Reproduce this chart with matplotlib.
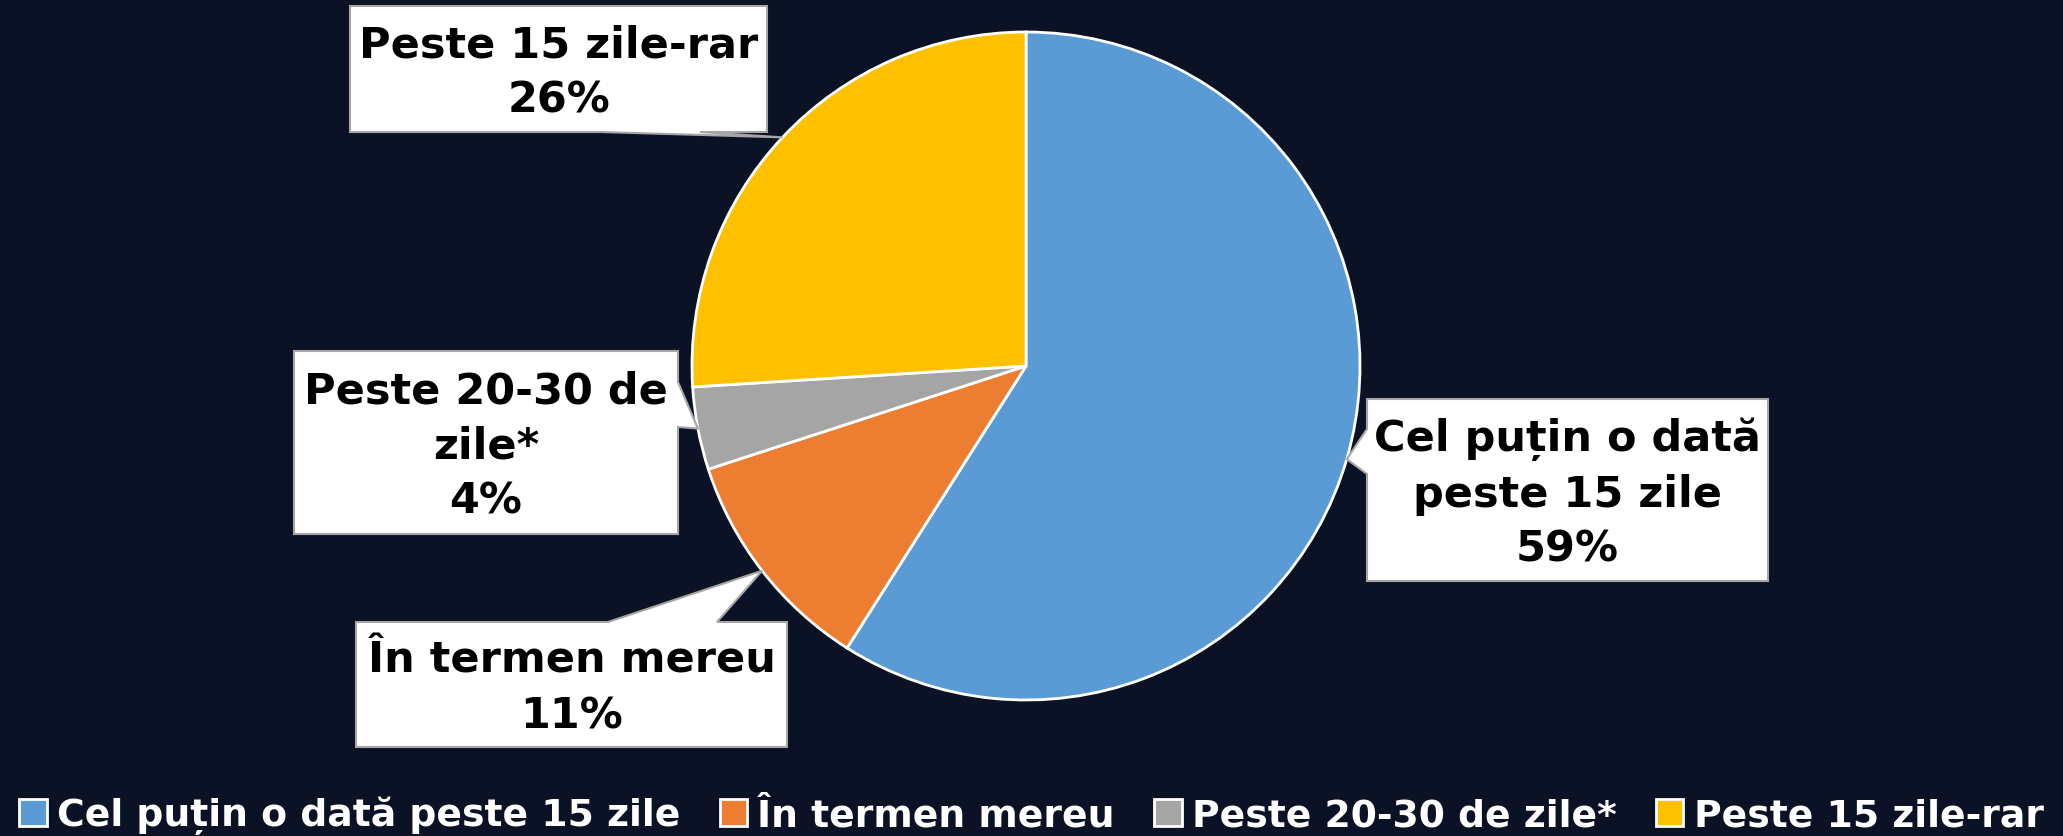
import numpy as np
import matplotlib
matplotlib.use("Agg")
import matplotlib.pyplot as plt
from matplotlib.patches import Polygon

# data
categories = ["Cel puțin o dată peste 15 zile", "În termen mereu",
              "Peste 20-30 de zile*", "Peste 15 zile-rar"]
shares = [59, 11, 4, 26]
box_labels = ["Cel puțin o dată\npeste 15 zile", "În termen mereu",
              "Peste 20-30 de\nzile*", "Peste 15 zile-rar"]
colors = ["#5B9BD5", "#ED7D31", "#A5A5A5", "#FFC000"]

W, H = 2063, 837
BG = "#0c1225"

fig = plt.figure(figsize=(W / 100, H / 100), dpi=100, facecolor=BG)
ax = fig.add_axes([0, 0, 1, 1])
ax.set_facecolor(BG)

# pie, in pixel-like data units (y up)
cx, cy, r = 1026, H - 367, 334
wedges, _ = ax.pie(shares, colors=colors, startangle=90, counterclock=False,
                   center=(cx, cy), radius=r,
                   wedgeprops=dict(edgecolor="white", linewidth=2))
ax.set_xlim(0, W)
ax.set_ylim(0, H)
ax.set_aspect("equal")
ax.axis("off")

# callout boxes: (left, top, right, bottom) measured from top-left, pointer side, pointer base
boxes = [
    ((1367, 400, 1768, 582), "left", (430, 475)),
    ((356, 623, 787, 748), "top", (608, 717)),
    ((294, 352, 678, 535), "right", (383, 428)),
    ((350, 7, 767, 133), "bottom", (600, 700)),
]

for w, lab, share, (box, side, base) in zip(wedges, box_labels, shares, boxes):
    mid = np.deg2rad((w.theta1 + w.theta2) / 2)
    tip = (cx + r * np.cos(mid), H - (cy + r * np.sin(mid)))  # back to top-down
    x0, y0, x1, y1 = box
    b0, b1 = base
    if side == "top":
        pts = [(x0, y0), (b0, y0), tip, (b1, y0), (x1, y0), (x1, y1), (x0, y1)]
    elif side == "right":
        pts = [(x0, y0), (x1, y0), (x1, b0), tip, (x1, b1), (x1, y1), (x0, y1)]
    elif side == "bottom":
        pts = [(x0, y0), (x1, y0), (x1, y1), (b1, y1), tip, (b0, y1), (x0, y1)]
    else:
        pts = [(x0, y0), (x1, y0), (x1, y1), (x0, y1), (x0, b1), tip, (x0, b0)]
    pts = [(px, H - py) for px, py in pts]
    ax.add_patch(Polygon(pts, closed=True, facecolor="white", edgecolor="#A6A6A6",
                         linewidth=1.5, zorder=5))
    ax.text((x0 + x1) / 2, H - (y0 + y1) / 2 - 3, f"{lab}\n{share}%", ha="center", va="center",
            fontsize=31, fontweight="bold", color="black", linespacing=1.4, zorder=6)

ax.legend(wedges, categories, loc="center", bbox_to_anchor=(0.5, 1 - 816 / H),
          bbox_transform=fig.transFigure, ncol=4, frameon=False,
          prop=dict(weight="bold", size=27.2), labelcolor="white",
          handlelength=0.72, handleheight=0.72, handletextpad=0.27,
          columnspacing=1.05, borderaxespad=0, borderpad=0)

fig.savefig("out.png", dpi=100, facecolor=BG)
